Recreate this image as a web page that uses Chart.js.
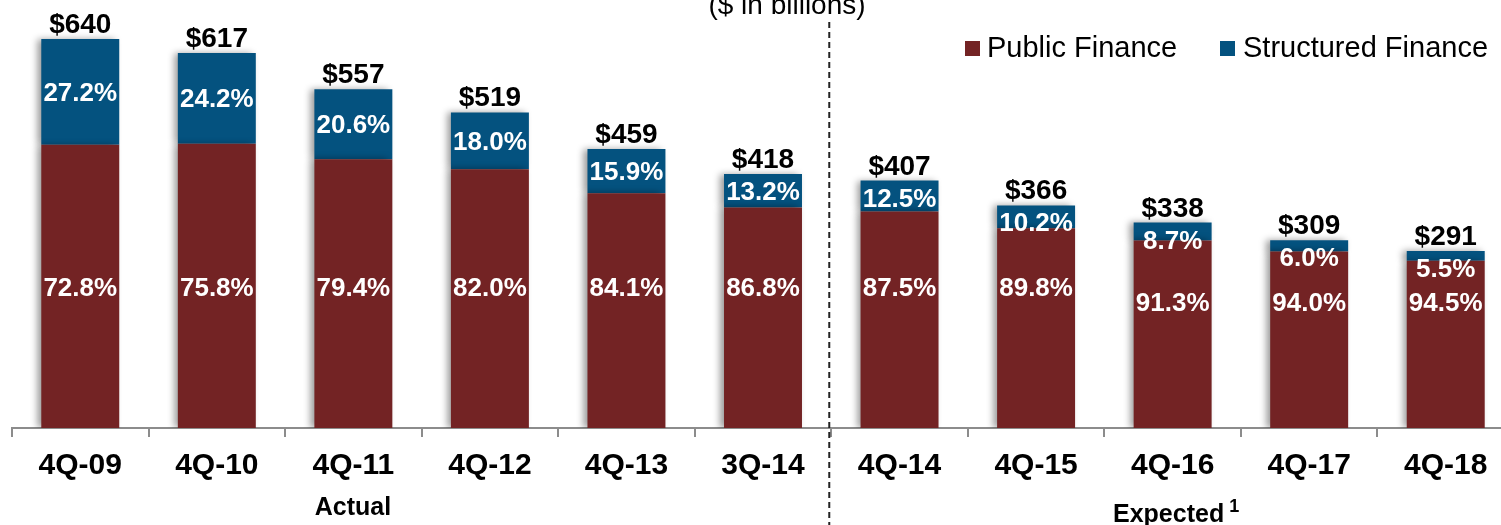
<!DOCTYPE html>
<html>
<head>
<meta charset="utf-8">
<script src="https://cdn.jsdelivr.net/npm/chart.js@4/dist/chart.umd.min.js"></script>
<style>
  html, body { margin: 0; padding: 0; background: #fff; overflow: hidden; }
  #wrap { position: relative; width: 1501px; height: 525px; overflow: hidden; font-family: "Liberation Sans", Arial, sans-serif; }
  #wrap canvas { position: absolute; left: 0; top: 0; }
  .txt { position: absolute; white-space: nowrap; color: #000; }
  .sq { position: absolute; width: 15px; height: 15px; }
</style>
</head>
<body>
<div id="wrap">
  <canvas id="chart" width="1514" height="525" style="width:1514px;height:525px"></canvas>
  <div class="txt" style="left:687px;width:200px;text-align:center;top:-9px;font-size:28px;line-height:28px;">($ in billions)</div>
  <div class="sq" style="left:965px;top:41px;background:#732324;"></div>
  <div class="txt" style="left:987px;top:33px;font-size:29px;line-height:29px;">Public Finance</div>
  <div class="sq" style="left:1220px;top:41px;background:#04527f;"></div>
  <div class="txt" style="left:1243px;top:33px;font-size:29px;line-height:29px;">Structured Finance</div>
  <div class="txt" style="left:253px;width:200px;text-align:center;top:494px;font-size:25px;line-height:25px;font-weight:bold;">Actual</div>
  <div class="txt" style="left:1113px;top:501px;font-size:25px;line-height:25px;font-weight:bold;">Expected<span style="font-size:18px;position:relative;top:-10px;margin-left:5px;">1</span></div>
</div>
<script>
// Values ($ in billions, share in %)
const categories = ['4Q-09', '4Q-10', '4Q-11', '4Q-12', '4Q-13', '3Q-14', '4Q-14', '4Q-15', '4Q-16', '4Q-17', '4Q-18'];
const totals = [640, 617, 557, 519, 459, 418, 407, 366, 338, 309, 291];
const publicPct = [72.8, 75.8, 79.4, 82.0, 84.1, 86.8, 87.5, 89.8, 91.3, 94.0, 94.5];
const structuredPct = [27.2, 24.2, 20.6, 18.0, 15.9, 13.2, 12.5, 10.2, 8.7, 6.0, 5.5];

const FONT = '"Liberation Sans", Arial, sans-serif';
const publicValues = totals.map((t, i) => t * publicPct[i] / 100);
const structuredValues = totals.map((t, i) => t * structuredPct[i] / 100);

// soft shadow on the left of the bars
const shadowPlugin = {
    id: 'barShadow',
    beforeDatasetDraw(chart) {
        const ctx = chart.ctx;
        ctx.save();
        ctx.shadowColor = 'rgba(0,0,0,0.4)';
        ctx.shadowBlur = 7;
        ctx.shadowOffsetX = -4;
        ctx.shadowOffsetY = 0;
    },
    afterDatasetDraw(chart) {
        chart.ctx.restore();
    }
};

// totals above bars and percentages inside
const labelPlugin = {
    id: 'barLabels',
    afterDatasetsDraw(chart) {
        const ctx = chart.ctx;
        const pubMeta = chart.getDatasetMeta(0);
        const strMeta = chart.getDatasetMeta(1);
        ctx.save();
        ctx.textAlign = 'center';
        ctx.textBaseline = 'alphabetic';
        categories.forEach((c, i) => {
            const pb = pubMeta.data[i];
            const sb = strMeta.data[i];
            const x = sb.x;
            ctx.fillStyle = '#000';
            ctx.font = 'bold 28px ' + FONT;
            ctx.fillText('$' + totals[i], x, sb.y - 6);

            ctx.fillStyle = '#fff';
            ctx.font = 'bold 26px ' + FONT;
            const sMid = Math.max((sb.y + pb.y) / 2, sb.y + 17);
            ctx.fillText(structuredPct[i].toFixed(1) + '%', x, sMid + 9);
            const pMid = pb.y > 235 ? 302 : 287;
            ctx.fillText(publicPct[i].toFixed(1) + '%', x, pMid + 9);
        });
        ctx.restore();
    },
    afterDraw(chart) {
        // dashed divider between actual and expected
        const ctx = chart.ctx;
        const xs = chart.scales.x;
        const xd = (xs.getPixelForValue(5) + xs.getPixelForValue(6)) / 2 - 2;
        ctx.save();
        ctx.strokeStyle = '#222';
        ctx.lineWidth = 2;
        ctx.setLineDash([6, 4]);
        ctx.beginPath();
        ctx.moveTo(xd, 22);
        ctx.lineTo(xd, 525);
        ctx.stroke();
        ctx.restore();
    }
};

new Chart(document.getElementById('chart').getContext('2d'), {
    type: 'bar',
    data: {
        labels: categories,
        datasets: [{
            label: 'Public Finance',
            data: publicValues,
            backgroundColor: '#732324'
        }, {
            label: 'Structured Finance',
            data: structuredValues,
            backgroundColor: '#04527f'
        }]
    },
    options: {
        responsive: false,
        animation: false,
        layout: { padding: { left: 12, right: 0, top: 0, bottom: 0 } },
        datasets: { bar: { barPercentage: 0.571, categoryPercentage: 1 } },
        plugins: { legend: { display: false }, tooltip: { enabled: false } },
        scales: {
            x: {
                stacked: true,
                afterFit: s => { s.height = 97; },
                border: { display: true, color: '#8c8c8c', width: 2 },
                grid: { display: true, drawOnChartArea: false, drawTicks: true, tickLength: 9, color: '#8c8c8c', lineWidth: 2 },
                ticks: { color: '#000', padding: 11, font: { family: FONT, size: 30, weight: 'bold' } }
            },
            y: {
                stacked: true,
                display: false,
                min: 0,
                max: 704
            }
        }
    },
    plugins: [shadowPlugin, labelPlugin]
});
</script>
</body>
</html>
